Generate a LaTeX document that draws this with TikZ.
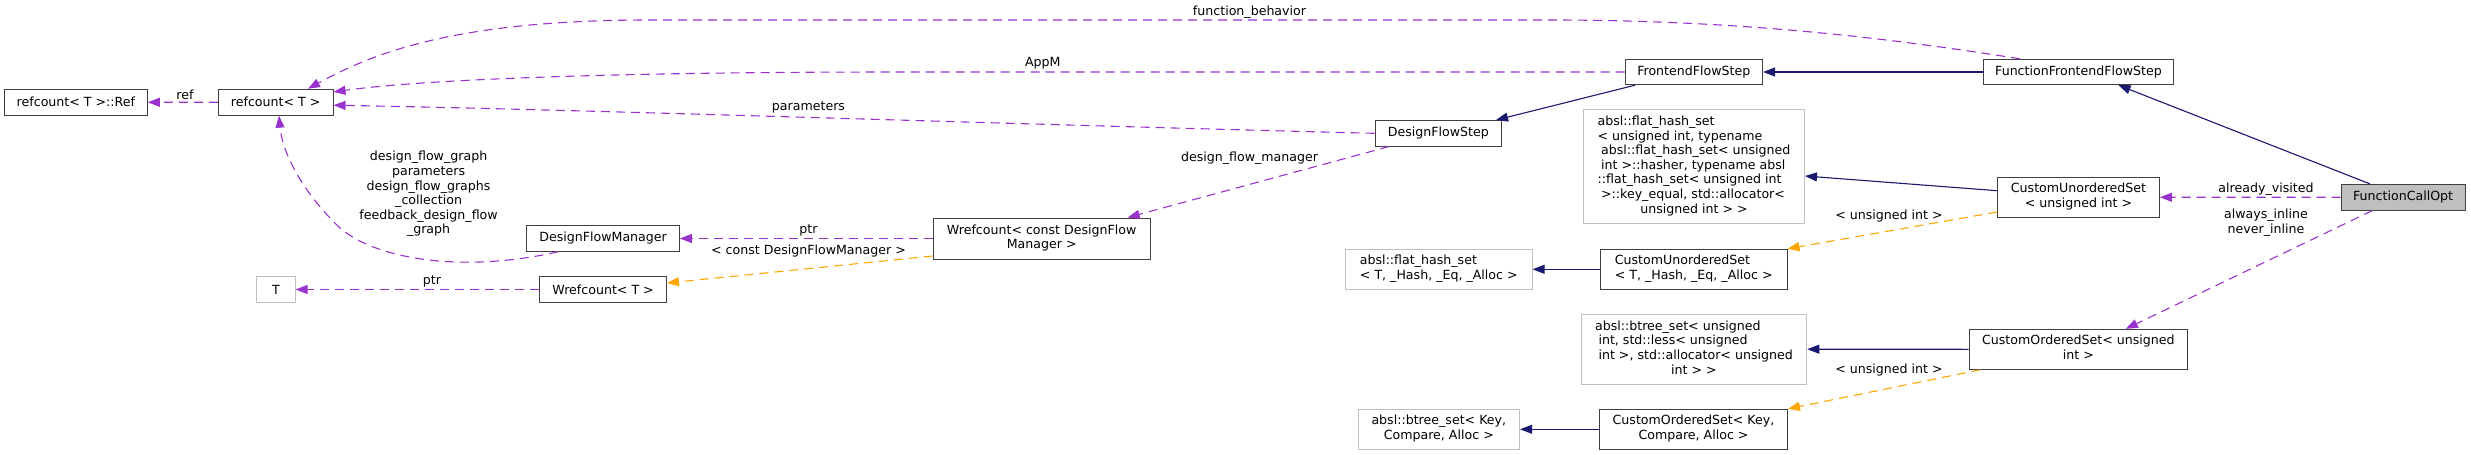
\documentclass[tikz,border=0pt]{standalone}
\usepackage{fontspec}
\setmainfont{DejaVu Sans}
\usetikzlibrary{arrows.meta}
\definecolor{usecol}{HTML}{9A32CD}
\definecolor{inhcol}{HTML}{191970}
\definecolor{tplcol}{HTML}{FFA500}
\definecolor{bord}{HTML}{404040}
\definecolor{extb}{HTML}{BFBFBF}
\definecolor{mainfill}{HTML}{BFBFBF}
\newcommand\mlL[1]{\begin{tabular}{@{}l@{}}#1\end{tabular}}
\newcommand\mlC[1]{\begin{tabular}{@{}c@{}}#1\end{tabular}}
\begin{document}
\begin{tikzpicture}[x=1pt,y=-1pt,
  font=\fontsize{12.6}{14.6}\selectfont,
  nd/.style 2 args={draw=bord, line width=1pt, fill=white, inner sep=0pt,
    minimum width=#1, minimum height=#2},
  ext/.style 2 args={nd={#1}{#2}, draw=extb},
  mainnd/.style 2 args={nd={#1}{#2}, fill=mainfill},
  tip/.style={-{Triangle[length=12pt,width=9pt]}},
  use/.style={tip, draw=usecol, line width=1.1pt, dash pattern=on 9pt off 6pt},
  inh/.style={tip, draw=inhcol, line width=1.1pt},
  tpl/.style={tip, draw=tplcol, line width=1.1pt, dash pattern=on 9pt off 6pt},
  lab/.style={inner sep=0pt, text=black}]
\useasboundingbox (0,0) rectangle (2471,455);

% nodes
\node[nd={142.8}{26}] (ref) at (75.9,102.3) {refcount< T >::Ref};
\node[nd={114.7}{26}] (rc) at (275.7,102.2) {refcount< T >};
\node[nd={152.6}{25.5}] (dfm) at (603.1,238.5) {DesignFlowManager};
\node[ext={38.3}{25.5}] (t) at (275.9,289.5) {T};
\node[nd={126.8}{25.5}] (wt) at (603.1,289.5) {Wrefcount< T >};
\node[nd={217.4}{41}] (wdfm) at (1041.7,238.5) {\mlC{Wrefcount< const DesignFlow\\Manager >}};
\node[nd={126.8}{25.5}] (dfs) at (1438.4,133.3) {DesignFlowStep};
\node[nd={137.5}{25.4}] (ffs) at (1693.8,72) {FrontendFlowStep};
\node[ext={221}{114}] (fhsbig) at (1694,166.3) {\mlL{absl::flat\_hash\_set\\
  < unsigned int, typename\\
  \hspace{3.5pt}absl::flat\_hash\_set< unsigned\\
  \hspace{3.5pt}int >::hasher, typename absl\\
  ::flat\_hash\_set< unsigned int\\
  \hspace{3.5pt}>::key\_equal, std::allocator<\\
  \multicolumn{1}{@{}c@{}}{unsigned int > >}}};
\node[ext={186.5}{40}] (fhst) at (1438.8,269.3) {\mlL{absl::flat\_hash\_set\\< T, \_Hash, \_Eq, \_Alloc >}};
\node[nd={186.6}{40}] (cust) at (1693.7,269.3) {\mlL{CustomUnorderedSet\\< T, \_Hash, \_Eq, \_Alloc >}};
\node[ext={225.7}{69.7}] (btu) at (1693.9,349.2) {\mlL{absl::btree\_set< unsigned\\
  \hspace{3.5pt}int, std::less< unsigned\\
  \hspace{3.5pt}int >, std::allocator< unsigned\\
  \multicolumn{1}{@{}c@{}}{int > >}}};
\node[ext={161.6}{40}] (btk) at (1438.8,429.3) {\mlC{absl::btree\_set< Key,\\Compare, Alloc >}};
\node[nd={188}{40}] (cosk) at (1693.5,429.3) {\mlC{CustomOrderedSet< Key,\\Compare, Alloc >}};
\node[nd={190.9}{25.4}] (fffs) at (2078.5,72) {FunctionFrontendFlowStep};
\node[nd={161.7}{40}] (cusu) at (2078.5,197.3) {\mlC{CustomUnorderedSet\\< unsigned int >}};
\node[nd={218.7}{40}] (cosu) at (2078.4,349.3) {\mlC{CustomOrderedSet< unsigned\\int >}};
\node[mainnd={124.2}{25.7}] (fco) at (2403.1,197.2) {FunctionCallOpt};

% labels
\node[lab] (lref) at (185,95) {ref};
\node[lab] (lfb) at (1249.5,12) {function\_behavior};
\node[lab] (lappm) at (1042.8,63) {AppM};
\node[lab] (lpar) at (808.5,107) {parameters};
\node[lab] (ldfm) at (1249.5,158) {design\_flow\_manager};
\node[lab] (lptr1) at (808.5,230) {ptr};
\node[lab] (lcdfm) at (808.5,251) {< const DesignFlowManager >};
\node[lab] (lptr2) at (432,281) {ptr};
\node[lab] (lmulti) at (428.6,194.5) {\mlC{design\_flow\_graph\\parameters\\design\_flow\_graphs\\\_collection\\feedback\_design\_flow\\\_graph}};
\node[lab] (lui1) at (1889,215.7) {< unsigned int >};
\node[lab] (lui2) at (1889,370) {< unsigned int >};
\node[lab] (lav) at (2266,188.7) {already\_visited};
\node[lab] (lai) at (2266,223.2) {\mlC{always\_inline\\never\_inline}};

% usage edges
\draw[use] (rc.west) -- (ref.east);
\draw[use] ([xshift=-58.5pt]fffs.north) .. controls (1900,40) and (1750,20) .. (1550,20)
  -- (650,20) .. controls (450,20) and (370,55) .. ([xshift=32.3pt]rc.north);
\draw[use] (ffs.west) -- (900,72) .. controls (600,72) and (420,80) .. ([yshift=10.3pt]rc.east);
\draw[use] (dfs.west) .. controls (1000,124) and (600,110) .. ([yshift=-3pt]rc.east);
\draw[use] ([xshift=-49.4pt]dfs.south) -- ([xshift=86pt]wdfm.north);
\draw[use] (wdfm.west) -- (dfm.east);
\draw[use] ([xshift=-45pt]dfm.south) .. controls (470,272) and (380,262) .. (340,228)
  .. controls (300,190) and (282,150) .. ([xshift=3.3pt]rc.south);
\draw[use] (wt.west) -- (t.east);
\draw[use] (fco.west) -- (cusu.east);
\draw[use] ([xshift=-30.7pt]fco.south) -- ([xshift=47.4pt]cosu.north);

% template edges
\draw[tpl] ([yshift=-17.5pt]wdfm.west) -- ([yshift=6.5pt]wt.east);
\draw[tpl] ([yshift=-14.7pt]cusu.west) -- (cust.north east);
\draw[tpl] ([xshift=11.7pt]cosu.south west) -- (cosk.north east);

% inheritance edges
\draw[inh] ([xshift=-58.8pt]ffs.south) -- ([xshift=57.6pt]dfs.north);
\draw[inh] (fffs.west) -- (ffs.east);
\draw[inh] ([xshift=-33.3pt]fco.north) -- ([xshift=40pt]fffs.south);
\draw[inh] ([yshift=6.6pt]cusu.west) -- ([yshift=-9.7pt]fhsbig.east);
\draw[inh] (cust.west) -- (fhst.east);
\draw[inh] (cosu.west) -- (btu.east);
\draw[inh] (cosk.west) -- (btk.east);
\end{tikzpicture}
\end{document}
